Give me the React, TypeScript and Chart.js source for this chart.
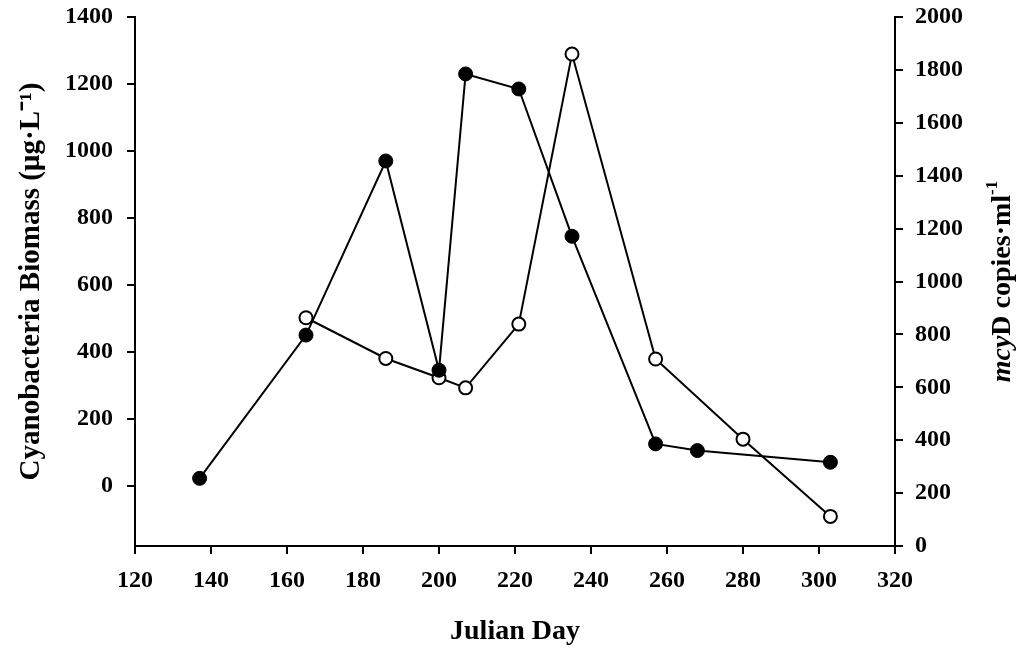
import React, { useEffect, useRef } from "react";
import { Chart, registerables } from "chart.js";

Chart.register(...registerables);

const biomassDays = [137, 165, 186, 200, 207, 221, 235, 257, 268, 303];
const biomassValues = [22, 450, 970, 345, 1230, 1185, 745, 125, 105, 70];
const mcyDays = [165, 186, 200, 207, 221, 235, 257, 280, 303];
const mcyValues = [863, 709, 636, 598, 839, 1860, 707, 404, 112];

const leftTicks = [0, 200, 400, 600, 800, 1000, 1200, 1400];

const xTitle = "Julian Day";
const leftTitle = "Cyanobacteria Biomass (µg·L⁻¹)";
const rightTitleItalic = "mcy";
const rightTitleRest = "D copies·ml";
const rightTitleSup = "-1";

const FONT = "'Liberation Serif', 'Times New Roman', serif";

const rightTitlePlugin = {
  id: "rightTitle",
  afterDraw(chart: any) {
    const ctx = chart.ctx as CanvasRenderingContext2D;
    const area = chart.chartArea;
    const cy = (area.top + area.bottom) / 2;
    const cx = 1003;
    ctx.save();
    ctx.translate(cx, cy);
    ctx.rotate(-Math.PI / 2);
    ctx.fillStyle = "#000";
    ctx.textBaseline = "middle";
    ctx.textAlign = "left";
    const fItalic = `italic bold 28px ${FONT}`;
    const fBold = `bold 28px ${FONT}`;
    const fSup = `bold 17px ${FONT}`;
    ctx.font = fItalic;
    const w1 = ctx.measureText(rightTitleItalic).width;
    ctx.font = fBold;
    const w2 = ctx.measureText(rightTitleRest).width;
    ctx.font = fSup;
    const w3 = ctx.measureText(rightTitleSup).width;
    let x = -(w1 + w2 + w3) / 2;
    ctx.font = fItalic;
    ctx.fillText(rightTitleItalic, x, 0);
    x += w1;
    ctx.font = fBold;
    ctx.fillText(rightTitleRest, x, 0);
    x += w2;
    ctx.font = fSup;
    ctx.fillText(rightTitleSup, x, -10);
    ctx.restore();
  },
};

export default function App() {
  const ref = useRef<HTMLCanvasElement>(null);

  useEffect(() => {
    if (!ref.current) return;
    const tickFont = { family: FONT, size: 24, weight: "bold" as const };
    const plain = (v: any) => String(v);
    const chart = new Chart(ref.current, {
      type: "line",
      data: {
        datasets: [
          {
            label: "Cyanobacteria Biomass",
            data: biomassDays.map((d, i) => ({ x: d, y: biomassValues[i] })),
            yAxisID: "y",
            borderColor: "#000",
            borderWidth: 2,
            backgroundColor: "#000",
            pointBackgroundColor: "#000",
            pointBorderColor: "#000",
            pointBorderWidth: 1,
            pointRadius: 7,
            tension: 0,
            fill: false,
          },
          {
            label: "mcyD copies",
            data: mcyDays.map((d, i) => ({ x: d, y: mcyValues[i] })),
            yAxisID: "y1",
            borderColor: "#000",
            borderWidth: 2,
            backgroundColor: "#fff",
            pointBackgroundColor: "#fff",
            pointBorderColor: "#000",
            pointBorderWidth: 2,
            pointRadius: 6.5,
            tension: 0,
            fill: false,
          },
        ],
      },
      options: {
        responsive: false,
        animation: false,
        layout: { padding: { top: 17, left: 0, right: 0, bottom: 0 } },
        plugins: {
          legend: { display: false },
          tooltip: { enabled: false },
        },
        scales: {
          x: {
            type: "linear",
            min: 120,
            max: 320,
            ticks: { stepSize: 20, color: "#000", font: tickFont, padding: 12, maxRotation: 0, callback: plain },
            grid: { drawOnChartArea: false, drawTicks: true, tickLength: 8, color: "#000", lineWidth: 2 },
            border: { display: true, color: "#000", width: 2 },
            title: {
              display: true,
              text: xTitle,
              color: "#000",
              font: { family: FONT, size: 28, weight: "bold" },
              padding: { top: 0, bottom: 1 },
            },
            afterFit(scale: any) {
              scale.height = 104;
            },
          },
          y: {
            type: "linear",
            position: "left",
            min: -180,
            max: 1400,
            ticks: { color: "#000", font: tickFont, padding: 14, callback: plain },
            afterBuildTicks(scale: any) {
              scale.ticks = leftTicks.map((v) => ({ value: v }));
            },
            grid: { drawOnChartArea: false, drawTicks: true, tickLength: 8, color: "#000", lineWidth: 2 },
            border: { display: true, color: "#000", width: 2 },
            title: {
              display: true,
              text: leftTitle,
              color: "#000",
              font: { family: FONT, size: 29, weight: "bold" },
              padding: { top: 14, bottom: 0 },
            },
            afterFit(scale: any) {
              scale.width = 135;
              scale.paddingTop = 0;
              scale.paddingBottom = 0;
            },
          },
          y1: {
            type: "linear",
            position: "right",
            min: 0,
            max: 2000,
            ticks: { stepSize: 200, color: "#000", font: tickFont, padding: 12, callback: plain },
            grid: { drawOnChartArea: false, drawTicks: true, tickLength: 8, color: "#000", lineWidth: 2 },
            border: { display: true, color: "#000", width: 2 },
            afterFit(scale: any) {
              scale.width = 130;
              scale.paddingTop = 0;
              scale.paddingBottom = 0;
            },
          },
        },
      },
      plugins: [rightTitlePlugin],
    });
    return () => chart.destroy();
  }, []);

  return (
    <div style={{ position: "fixed", left: 0, top: 0, width: 1025, height: 650, background: "#fff" }}>
      <canvas ref={ref} width={1025} height={650} style={{ width: 1025, height: 650 }} />
    </div>
  );
}
